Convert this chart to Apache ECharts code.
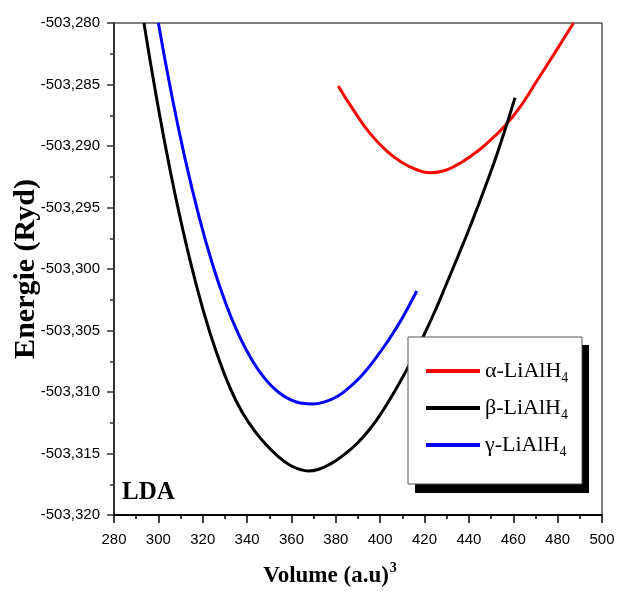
<!DOCTYPE html>
<html>
<head>
<meta charset="utf-8">
<script src="https://cdn.jsdelivr.net/npm/echarts@6/dist/echarts.min.js"></script>
<style>html,body{margin:0;padding:0;background:#fff;}#c{width:625px;height:595px;}</style>
</head>
<body>
<div id="c"></div>
<script>
// Data (volume in (a.u)^3, energy in Ryd)
var seriesNames = ['α-LiAlH4', 'β-LiAlH4', 'γ-LiAlH4'];
var seriesColors = ['#ff0000', '#000000', '#0000ff'];

var alphaV = [381.1, 388, 395.4, 403, 410.4, 416, 422.5, 428, 434, 440.5, 448, 456.3, 463, 470.6, 479, 487.1];
var alphaE = [-503.28512, -503.28709, -503.28897, -503.29041, -503.29141, -503.29189, -503.29217, -503.29205, -503.29160, -503.29087, -503.28980, -503.28835, -503.28685, -503.28472, -503.28235, -503.28002];

var betaV = [293.5, 299, 305, 311, 317, 323, 329, 335, 341, 347, 353, 359, 364, 367.6, 372, 378, 384, 390, 396, 401.4, 407, 412.7, 419.4, 425, 430, 435, 440.5, 447, 453.3, 460.8];
var betaE = [-503.28000, -503.28590, -503.29170, -503.29679, -503.30123, -503.30504, -503.30818, -503.31071, -503.31255, -503.31397, -503.31508, -503.31592, -503.31630, -503.31642, -503.31630, -503.31580, -503.31505, -503.31410, -503.31286, -503.31146, -503.30980, -503.30794, -503.30550, -503.30330, -503.30116, -503.29900, -503.29656, -503.29350, -503.29033, -503.28607];

var gammaV = [300, 306, 312, 318, 324, 330, 336, 342, 348, 354, 360, 365, 369.4, 375, 381, 386.4, 392, 398, 403, 406.7, 411, 416.5];
var gammaE = [-503.28000, -503.28584, -503.29100, -503.29550, -503.29937, -503.30261, -503.30525, -503.30733, -503.30891, -503.31000, -503.31066, -503.31092, -503.31098, -503.31080, -503.31032, -503.30957, -503.30859, -503.30724, -503.30598, -503.30496, -503.30365, -503.30179];

var xMin = 280, xMax = 500, xStep = 20;
var yMin = -503.320, yMax = -503.280, yStep = 0.005;

function pairs(v, e) { return v.map(function (x, i) { return [x, e[i]]; }); }
var allV = [alphaV, betaV, gammaV];
var allE = [alphaE, betaE, gammaE];

var tickFont = '"Liberation Sans", Arial, sans-serif';
var serif = '"Liberation Serif", "Times New Roman", serif';

var chart = echarts.init(document.getElementById('c'), null, { renderer: 'canvas' });
chart.setOption({
  animation: false,
  backgroundColor: '#fff',
  grid: {
    left: 114, right: 23, top: 23, bottom: 80,
    containLabel: false, outerBoundsMode: 'none',
    show: true, borderColor: '#000', borderWidth: 1, backgroundColor: 'transparent'
  },
  title: {
    text: 'LDA', left: 117, top: 475,
    textStyle: { fontFamily: serif, fontWeight: 'bold', fontSize: 25, color: '#000' }
  },
  xAxis: {
    type: 'value', min: xMin, max: xMax, interval: xStep,
    name: '{b|Volume (a.u)}{sup|3}',
    nameLocation: 'middle', nameGap: 46, nameMoveOverlap: false,
    nameTextStyle: {
      padding: [0, 56, 0, 0],
      rich: {
        b: { fontFamily: serif, fontWeight: 'bold', fontSize: 23, color: '#000' },
        sup: { fontFamily: serif, fontWeight: 'bold', fontSize: 14, color: '#000', padding: [0, 0, 16, 1] }
      }
    },
    axisLine: { show: true, onZero: false, lineStyle: { color: '#000', width: 2 } },
    axisTick: { show: true, inside: false, length: 8, lineStyle: { color: '#000', width: 1.5 } },
    minorTick: { show: true, splitNumber: 2, length: 4, lineStyle: { color: '#000', width: 1.5 } },
    axisLabel: { margin: 17, fontFamily: tickFont, fontSize: 15, color: '#000' },
    splitLine: { show: false }
  },
  yAxis: {
    type: 'value', min: yMin, max: yMax, interval: yStep,
    name: 'Energie (Ryd)',
    nameLocation: 'middle', nameGap: 73, nameRotate: 90, nameMoveOverlap: false,
    nameTextStyle: { fontFamily: serif, fontWeight: 'bold', fontSize: 30, color: '#000' },
    axisLine: { show: true, onZero: false, lineStyle: { color: '#333', width: 2 } },
    axisTick: { show: true, inside: false, length: 7, lineStyle: { color: '#333', width: 1.5 } },
    minorTick: { show: true, splitNumber: 2, length: 4, lineStyle: { color: '#333', width: 1.5 } },
    axisLabel: {
      margin: 14, fontFamily: tickFont, fontSize: 15, color: '#000',
      formatter: function (v) { return v.toFixed(3).replace('.', ','); }
    },
    splitLine: { show: false }
  },
  legend: {
    orient: 'vertical', left: 421, top: 355, z: 10,
    itemWidth: 54, itemHeight: 4, itemGap: 12, icon: 'rect',
    data: seriesNames,
    formatter: function (n) { return '{m|' + n.slice(0, -1) + '}{s|' + n.slice(-1) + '}'; },
    textStyle: {
      rich: {
        m: { fontFamily: serif, fontSize: 22, color: '#000' },
        s: { fontFamily: serif, fontSize: 14, color: '#000', padding: [14, 0, 0, 0] }
      }
    }
  },
  graphic: [
    { type: 'rect', z: 8, shape: { x: 415, y: 345, width: 174, height: 148 }, style: { fill: '#000' } },
    { type: 'rect', z: 9, shape: { x: 408, y: 337, width: 174, height: 147 }, style: { fill: '#fff', stroke: '#555', lineWidth: 1 } }
  ],
  series: seriesNames.map(function (n, i) {
    return {
      name: n, type: 'line', smooth: true, showSymbol: false, symbol: 'none',
      data: pairs(allV[i], allE[i]),
      lineStyle: { color: seriesColors[i], width: 3 },
      itemStyle: { color: seriesColors[i] },
      clip: true
    };
  })
});
</script>
</body>
</html>
